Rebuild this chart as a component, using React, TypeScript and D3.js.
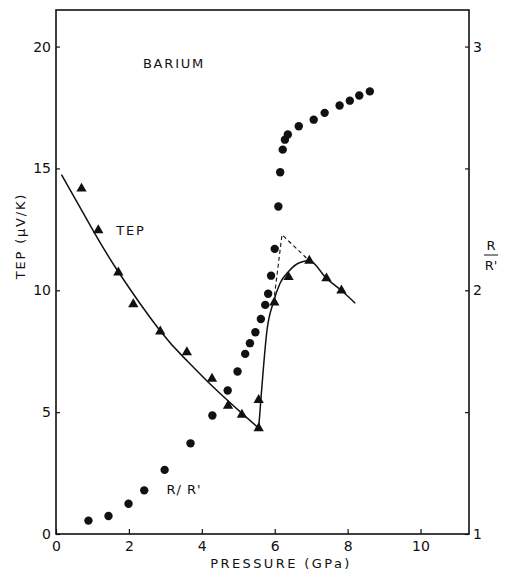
import React, { useEffect, useRef } from "react";
import * as d3 from "d3";

const width = 506;
const height = 573;
const margin = { top: 10, right: 37, bottom: 39, left: 56 };

// axes
const pressureTicks = [0, 2, 4, 6, 8, 10];
const tepTicks = [0, 5, 10, 15, 20];
const ratioTicks = [1, 1.5, 2, 2.5, 3];
const ratioLabels = [1, 2, 3];

// TEP (triangles)
const tepPressure = [0.7, 1.16, 1.71, 2.12, 2.86, 3.59, 4.28, 4.72, 5.1, 5.56, 5.56, 5.99, 6.38, 6.95, 7.42, 7.83];
const tepValues = [14.17, 12.46, 10.73, 9.43, 8.31, 7.46, 6.37, 5.26, 4.89, 4.34, 5.5, 9.5, 10.54, 11.21, 10.49, 9.99];

// R/R' (dots)
const rrPressure = [0.89, 1.44, 1.99, 2.42, 2.98, 3.69, 4.29, 4.71, 4.98, 5.19, 5.32, 5.47, 5.62, 5.74, 5.82, 5.9, 6.0, 6.1, 6.15, 6.22, 6.28, 6.36, 6.66, 7.07, 7.37, 7.78, 8.06, 8.32, 8.61];
const rrValues = [1.055, 1.074, 1.124, 1.179, 1.263, 1.372, 1.486, 1.589, 1.667, 1.739, 1.783, 1.828, 1.882, 1.94, 1.986, 2.06, 2.17, 2.344, 2.484, 2.577, 2.618, 2.639, 2.673, 2.7, 2.728, 2.758, 2.778, 2.799, 2.816];

// hand drawn TEP curves
const lowCurveP = [0.15, 1.0, 1.7, 2.85, 3.6, 4.3, 5.1, 5.56];
const lowCurveT = [14.75, 12.5, 10.78, 8.35, 7.1, 6.05, 4.95, 4.34];
const highCurveP = [5.56, 5.62, 5.79, 5.97, 6.15, 6.38, 6.66, 6.95, 7.42, 7.83, 8.21];
const highCurveT = [4.34, 5.5, 8.38, 9.54, 10.3, 10.77, 11.12, 11.21, 10.49, 9.99, 9.47];
const dashP = [5.97, 6.2, 6.95];
const dashT = [9.5, 12.28, 11.21];

const font = "DejaVu Sans, sans-serif";

const x = d3.scaleLinear().domain([0, 11.33]).range([margin.left, width - margin.right]);
const y = d3.scaleLinear().domain([0, 21.5]).range([height - margin.bottom, margin.top]);
const y2 = d3.scaleLinear().domain([1, 3.15]).range([height - margin.bottom, margin.top]);

const smooth = d3
  .line<[number, number]>()
  .x(d => x(d[0]))
  .y(d => y(d[1]))
  .curve(d3.curveNatural);

const line = d3
  .line<[number, number]>()
  .x(d => x(d[0]))
  .y(d => y(d[1]))
  .curve(d3.curveMonotoneX);

const straight = d3
  .line<[number, number]>()
  .x(d => x(d[0]))
  .y(d => y(d[1]));

const zip = (a: number[], b: number[]) => a.map((v, i) => [v, b[i]] as [number, number]);

const triangle = d3.symbol().type(d3.symbolTriangle).size(46)();

export default function App() {
  const xAxisRef = useRef<SVGGElement>(null);
  const yAxisRef = useRef<SVGGElement>(null);
  const y2AxisRef = useRef<SVGGElement>(null);

  useEffect(() => {
    const style = (g: d3.Selection<SVGGElement, unknown, null, undefined>) => {
      g.select(".domain").remove();
      g.selectAll(".tick line").attr("stroke", "#111").attr("stroke-width", 1.2);
      g.selectAll(".tick text")
        .attr("fill", "#111")
        .attr("font-size", 14)
        .attr("font-family", font);
      g.attr("font-family", null).attr("font-size", null);
    };

    d3.select(xAxisRef.current!)
      .call(d3.axisBottom(x).tickValues(pressureTicks).tickSize(-5).tickSizeOuter(0).tickPadding(7))
      .call(style);
    d3.select(yAxisRef.current!)
      .call(d3.axisLeft(y).tickValues(tepTicks).tickSize(-4).tickSizeOuter(0).tickPadding(5))
      .call(style);
    d3.select(y2AxisRef.current!)
      .call(
        d3
          .axisRight(y2)
          .tickValues(ratioTicks)
          .tickSize(-4)
          .tickSizeOuter(0)
          .tickPadding(4)
          .tickFormat(d => (ratioLabels.includes(+d) ? String(d) : ""))
      )
      .call(style);
  }, []);

  const plotW = width - margin.left - margin.right;
  const plotH = height - margin.top - margin.bottom;

  return (
    <svg
      width={width}
      height={height}
      style={{ position: "absolute", left: 0, top: 0, background: "#fff" }}
    >
      <rect x={margin.left} y={margin.top} width={plotW} height={plotH} fill="none" stroke="#111" strokeWidth={1.6} />
      <g ref={xAxisRef} transform={`translate(0, ${height - margin.bottom})`} />
      <g ref={yAxisRef} transform={`translate(${margin.left}, 0)`} />
      <g ref={y2AxisRef} transform={`translate(${width - margin.right}, 0)`} />

      <path d={smooth(zip(lowCurveP, lowCurveT)) || ""} fill="none" stroke="#111" strokeWidth={1.5} />
      <path d={line(zip(highCurveP, highCurveT)) || ""} fill="none" stroke="#111" strokeWidth={1.5} />
      <path d={straight(zip(dashP, dashT)) || ""} fill="none" stroke="#111" strokeWidth={1.1} strokeDasharray="4,3" />

      {tepPressure.map((p, i) => (
        <path key={`t${i}`} d={triangle || ""} transform={`translate(${x(p)}, ${y(tepValues[i])})`} fill="#111" />
      ))}
      {rrPressure.map((p, i) => (
        <circle key={`c${i}`} cx={x(p)} cy={y2(rrValues[i])} r={4.2} fill="#111" />
      ))}

      <text x={174} y={68} textAnchor="middle" fontFamily={font} fontSize={13} letterSpacing={1.8} fill="#111">
        BARIUM
      </text>
      <text x={131} y={235} textAnchor="middle" fontFamily={font} fontSize={13} letterSpacing={1.8} fill="#111">
        TEP
      </text>
      <text x={184} y={494} textAnchor="middle" fontFamily={font} fontSize={13} letterSpacing={1} fill="#111">
        R/ R'
      </text>
      <text
        transform="translate(25, 236) rotate(-90)"
        textAnchor="middle"
        fontFamily={font}
        fontSize={13}
        letterSpacing={1.8}
        fill="#111"
      >
        TEP (μV/K)
      </text>
      <text x={281} y={568} textAnchor="middle" fontFamily={font} fontSize={13} letterSpacing={2.4} fill="#111">
        PRESSURE (GPa)
      </text>
      <g fontFamily={font} fontSize={13} fill="#111" textAnchor="middle">
        <text x={491} y={250}>R</text>
        <line x1={484} x2={498} y1={255} y2={255} stroke="#111" strokeWidth={1} />
        <text x={491} y={270}>R'</text>
      </g>
    </svg>
  );
}
